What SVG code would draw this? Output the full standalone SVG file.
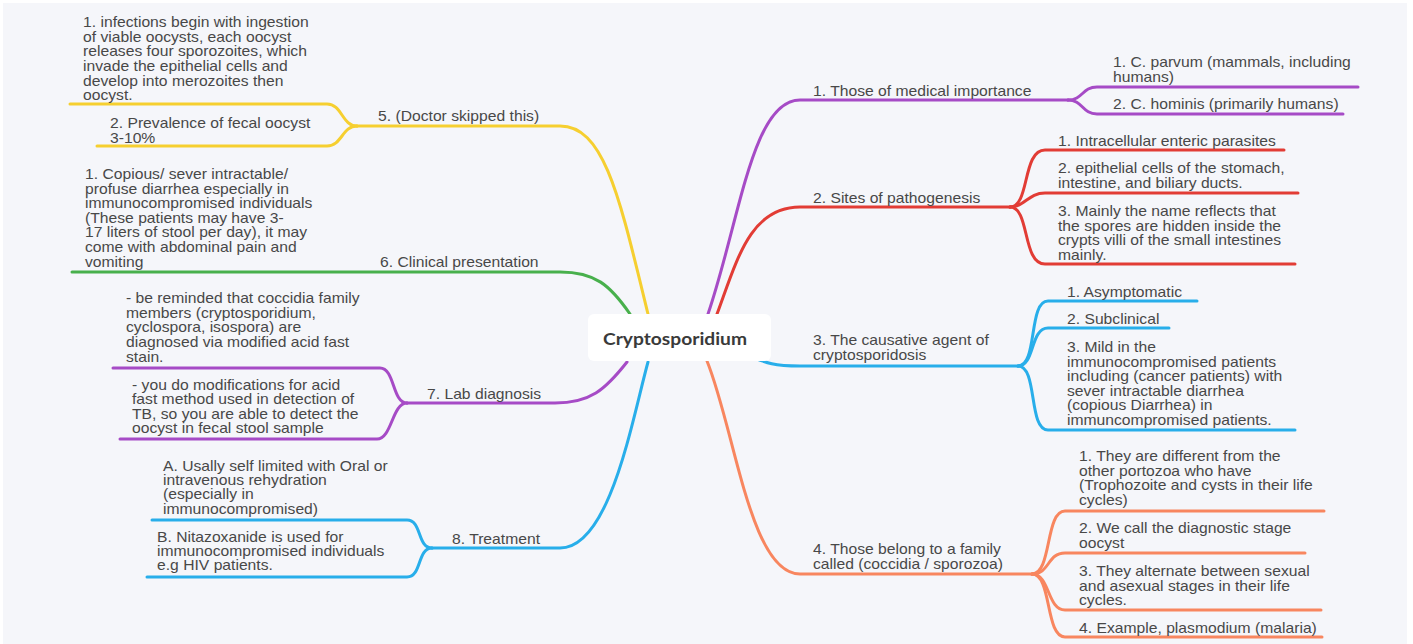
<svg xmlns="http://www.w3.org/2000/svg" width="1413" height="644" viewBox="0 0 1413 644">
<defs>
<style>
.t{font-family:"Liberation Sans",Arial,Helvetica,sans-serif;font-size:14px;fill:#484848}
.c{fill:none;stroke-width:3;stroke-linecap:round;stroke-linejoin:round}
.pu{stroke:#a64bc6}
.rd{stroke:#e23c35}
.bl{stroke:#28aeea}
.or{stroke:#f8865f}
.ye{stroke:#f6cf30}
.gr{stroke:#48b04c}
.root{font-family:Lato,"Open Sans",sans-serif;font-size:17px;font-weight:700;fill:#3a3a3a}
</style>
</defs>
<rect width="1413" height="644" fill="#ffffff"/>
<rect x="3" y="3" width="1404" height="641" fill="#f5f6fa"/>

<g id="connectors">
<path class="c pu" d="M708,314 C740,220 752,100 800,100 L1068,100"/>
<path class="c pu" d="M1068,100 C1083,100 1082,87 1097,87 L1358,87"/>
<path class="c pu" d="M1068,100 C1083,100 1082,114 1097,114 L1343,114"/>
<path class="c rd" d="M717,314 C737,260 750,207 800,207 L1010,207"/>
<path class="c rd" d="M1010,207 C1030,207 1022,150 1045,150 L1284,150"/>
<path class="c rd" d="M1010,207 C1025,207 1028,193 1045,193 L1298,193"/>
<path class="c rd" d="M1010,207 C1030,207 1022,264 1045,264 L1295,264"/>
<path class="c bl" d="M745,354 C768,364 775,366 800,366 L1018,366"/>
<path class="c bl" d="M1018,366 C1038,366 1028,301 1048,301 L1197,301"/>
<path class="c bl" d="M1018,366 C1035,366 1030,328 1048,328 L1169,328"/>
<path class="c bl" d="M1018,366 C1038,366 1028,430 1048,430 L1295,430"/>
<path class="c or" d="M707,361 C735,430 750,574 800,574 L1032,574"/>
<path class="c or" d="M1032,574 C1052,574 1045,511 1065,511 L1324,511"/>
<path class="c or" d="M1032,574 C1050,574 1047,553 1065,553 L1305,553"/>
<path class="c or" d="M1032,574 C1050,574 1047,610 1065,610 L1321,610"/>
<path class="c or" d="M1032,574 C1052,574 1045,637 1065,637 L1322,637"/>
<path class="c ye" d="M648,314 C620,200 605,126 560,126 L357,126"/>
<path class="c ye" d="M357,126 C342,126 342,104 327,104 L70,104"/>
<path class="c ye" d="M357,126 C342,126 342,146 327,146 L97,146"/>
<path class="c gr" d="M630,314 C610,285 595,272 560,272 L72,272"/>
<path class="c pu" d="M627,362 C605,390 590,403 555,403 L407,403"/>
<path class="c pu" d="M407,403 C392,403 395,368 380,368 L113,368"/>
<path class="c pu" d="M407,403 C392,403 392,439 377,439 L120,439"/>
<path class="c bl" d="M648,362 C632,420 610,548 560,548 L432,548"/>
<path class="c bl" d="M432,548 C417,548 422,520 407,520 L152,520"/>
<path class="c bl" d="M432,548 C417,548 422,577 407,577 L147,577"/>
</g>

<g id="root">
<rect x="588" y="314" width="183" height="47" rx="6" fill="#ffffff"/>
<text class="root" x="603" y="345" textLength="144" lengthAdjust="spacingAndGlyphs">Cryptosporidium</text>
</g>

<g id="n1">
<text class="t" transform="translate(813,96) scale(1.12,1)">1. Those of medical importance</text>
</g>
<g id="n1a">
<text class="t" transform="translate(1113,67) scale(1.12,1)"><tspan x="0">1. C. parvum (mammals, including</tspan><tspan x="0" dy="14.7">humans)</tspan></text>
</g>
<g id="n1b">
<text class="t" transform="translate(1113,109) scale(1.12,1)">2. C. hominis (primarily humans)</text>
</g>

<g id="n2">
<text class="t" transform="translate(813,203) scale(1.12,1)">2. Sites of pathogenesis</text>
</g>
<g id="n2a">
<text class="t" transform="translate(1058,146) scale(1.12,1)">1. Intracellular enteric parasites</text>
</g>
<g id="n2b">
<text class="t" transform="translate(1058,173) scale(1.12,1)"><tspan x="0">2. epithelial cells of the stomach,</tspan><tspan x="0" dy="14.7">intestine, and biliary ducts.</tspan></text>
</g>
<g id="n2c">
<text class="t" transform="translate(1058,216) scale(1.12,1)"><tspan x="0">3. Mainly the name reflects that</tspan><tspan x="0" dy="14.7">the spores are hidden inside the</tspan><tspan x="0" dy="14.7">crypts villi of the small intestines</tspan><tspan x="0" dy="14.7">mainly.</tspan></text>
</g>

<g id="n3">
<text class="t" transform="translate(813,345) scale(1.12,1)"><tspan x="0">3. The causative agent of</tspan><tspan x="0" dy="14.7">cryptosporidosis</tspan></text>
</g>
<g id="n3a">
<text class="t" transform="translate(1067,297) scale(1.12,1)">1. Asymptomatic</text>
</g>
<g id="n3b">
<text class="t" transform="translate(1067,324) scale(1.12,1)">2. Subclinical</text>
</g>
<g id="n3c">
<text class="t" transform="translate(1067,352) scale(1.12,1)"><tspan x="0">3. Mild in the</tspan><tspan x="0" dy="14.6">immunocompromised patients</tspan><tspan x="0" dy="14.6">including (cancer patients) with</tspan><tspan x="0" dy="14.6">sever intractable diarrhea</tspan><tspan x="0" dy="14.6">(copious Diarrhea) in</tspan><tspan x="0" dy="14.6">immuncompromised patients.</tspan></text>
</g>

<g id="n4">
<text class="t" transform="translate(813,554) scale(1.12,1)"><tspan x="0">4. Those belong to a family</tspan><tspan x="0" dy="14.7">called (coccidia / sporozoa)</tspan></text>
</g>
<g id="n4a">
<text class="t" transform="translate(1079,461) scale(1.12,1)"><tspan x="0">1. They are different from the</tspan><tspan x="0" dy="14.7">other portozoa who have</tspan><tspan x="0" dy="14.7">(Trophozoite and cysts in their life</tspan><tspan x="0" dy="14.7">cycles)</tspan></text>
</g>
<g id="n4b">
<text class="t" transform="translate(1079,533) scale(1.12,1)"><tspan x="0">2. We call the diagnostic stage</tspan><tspan x="0" dy="14.7">oocyst</tspan></text>
</g>
<g id="n4c">
<text class="t" transform="translate(1079,576) scale(1.12,1)"><tspan x="0">3. They alternate between sexual</tspan><tspan x="0" dy="14.7">and asexual stages in their life</tspan><tspan x="0" dy="14.7">cycles.</tspan></text>
</g>
<g id="n4d">
<text class="t" transform="translate(1079,633) scale(1.12,1)">4. Example, plasmodium (malaria)</text>
</g>

<g id="n5">
<text class="t" transform="translate(378,121) scale(1.12,1)">5. (Doctor skipped this)</text>
</g>
<g id="n5a">
<text class="t" transform="translate(83,27) scale(1.12,1)"><tspan x="0">1. infections begin with ingestion</tspan><tspan x="0" dy="14.7">of viable oocysts, each oocyst</tspan><tspan x="0" dy="14.7">releases four sporozoites, which</tspan><tspan x="0" dy="14.7">invade the epithelial cells and</tspan><tspan x="0" dy="14.7">develop into merozoites then</tspan><tspan x="0" dy="14.7">oocyst.</tspan></text>
</g>
<g id="n5b">
<text class="t" transform="translate(110,128) scale(1.12,1)"><tspan x="0">2. Prevalence of fecal oocyst</tspan><tspan x="0" dy="14.7">3-10%</tspan></text>
</g>

<g id="n6">
<text class="t" transform="translate(380,267) scale(1.12,1)">6. Clinical presentation</text>
</g>
<g id="n6a">
<text class="t" transform="translate(85,179) scale(1.12,1)"><tspan x="0">1. Copious/ sever intractable/</tspan><tspan x="0" dy="14.6">profuse diarrhea especially in</tspan><tspan x="0" dy="14.6">immunocompromised individuals</tspan><tspan x="0" dy="14.6">(These patients may have 3-</tspan><tspan x="0" dy="14.6">17 liters of stool per day), it may</tspan><tspan x="0" dy="14.6">come with abdominal pain and</tspan><tspan x="0" dy="14.6">vomiting</tspan></text>
</g>

<g id="n7">
<text class="t" transform="translate(427,399) scale(1.12,1)">7. Lab diagnosis</text>
</g>
<g id="n7a">
<text class="t" transform="translate(126,303) scale(1.12,1)"><tspan x="0">- be reminded that coccidia family</tspan><tspan x="0" dy="14.7">members (cryptosporidium,</tspan><tspan x="0" dy="14.7">cyclospora, isospora) are</tspan><tspan x="0" dy="14.7">diagnosed via modified acid fast</tspan><tspan x="0" dy="14.7">stain.</tspan></text>
</g>
<g id="n7b">
<text class="t" transform="translate(132,390) scale(1.12,1)"><tspan x="0">- you do modifications for acid</tspan><tspan x="0" dy="14.5">fast method used in detection of</tspan><tspan x="0" dy="14.5">TB, so you are able to detect the</tspan><tspan x="0" dy="14.5">oocyst in fecal stool sample</tspan></text>
</g>

<g id="n8">
<text class="t" transform="translate(452,544) scale(1.12,1)">8. Treatment</text>
</g>
<g id="n8a">
<text class="t" transform="translate(163,471) scale(1.12,1)"><tspan x="0">A. Usally self limited with Oral or</tspan><tspan x="0" dy="14.2">intravenous rehydration</tspan><tspan x="0" dy="14.2">(especially in</tspan><tspan x="0" dy="14.2">immunocompromised)</tspan></text>
</g>
<g id="n8b">
<text class="t" transform="translate(157,542) scale(1.12,1)"><tspan x="0">B. Nitazoxanide is used for</tspan><tspan x="0" dy="14.2">immunocompromised individuals</tspan><tspan x="0" dy="14.2">e.g HIV patients.</tspan></text>
</g>
</svg>
